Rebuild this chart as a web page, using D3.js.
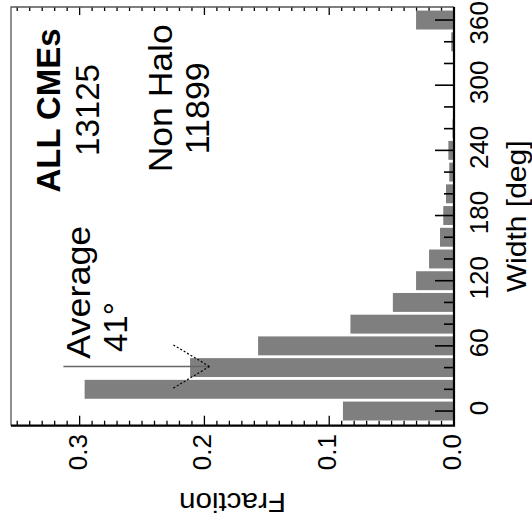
<!DOCTYPE html>
<html>
<head>
<meta charset="utf-8">
<script src="https://cdn.jsdelivr.net/npm/d3@7"></script>
<style>
  body { margin: 0; background: #fff; }
  text { font-family: "Liberation Sans", Arial, Helvetica, sans-serif; fill: #000; }
</style>
</head>
<body>
<svg id="chart" width="532" height="524"></svg>
<script>
// CME angular-width histogram, 20-degree bins centred on each value,
// drawn turned a quarter turn: width runs up the right side, fraction runs leftwards.
const binCenters = [0, 20, 40, 60, 80, 100, 120, 140, 160, 180, 200, 220, 240, 260, 280, 300, 320, 340, 360];
const fractions  = [0.089, 0.296, 0.2115, 0.157, 0.083, 0.049, 0.0304, 0.020, 0.0112, 0.0086,
                    0.0064, 0.0038, 0.0045, 0.0012, 0.0006, 0.0004, 0.0004, 0.0022, 0.0304];
const widthTicks    = [0, 60, 120, 180, 240, 300, 360];
const fractionTicks = [0.0, 0.1, 0.2, 0.3];
const averageWidth  = 41;
const arrowFrom = 0.313, arrowTo = 0.196, headBack = 0.225, headSpread = 20;
const labelAll = "ALL CMEs", countAll = "13125";
const labelNonHalo = "Non Halo", countNonHalo = "11899";

const W = 532, H = 524;
const svg = d3.select("#chart");
const frame = { left: 11, right: 454, top: 7, bottom: 425.7 };

const x = d3.scaleLinear().domain([0, 0.355]).range([frame.right, frame.left]);
const y = d3.scaleLinear().domain([-13.5, 372]).range([frame.bottom, frame.top]);
const binHalf = 10, gap = 2.8;

// fraction ticks on the bottom and top edges (drawn under the bars)
const fracMinor = d3.range(0, 0.3501, 0.01);
const tickG = svg.append("g").attr("stroke", "#000").attr("stroke-width", 1.3);
fracMinor.forEach((v, i) => {
  const major = i % 10 === 0;
  const px = x(v);
  tickG.append("line").attr("x1", px).attr("x2", px)
    .attr("y1", frame.bottom).attr("y2", frame.bottom - (major ? 10 : 5));
  tickG.append("line").attr("x1", px).attr("x2", px)
    .attr("y1", frame.top).attr("y2", frame.top + (major ? 8 : 4));
});

// bars
const data = binCenters.map((c, i) => ({ c, f: fractions[i] }));
svg.append("g").selectAll("rect").data(data).join("rect")
  .attr("x", d => x(d.f))
  .attr("width", d => x(0) - x(d.f) + 1)
  .attr("y", d => y(d.c + binHalf) + gap / 2)
  .attr("height", d => y(d.c - binHalf) - y(d.c + binHalf) - gap)
  .attr("fill", "#7f7f7f");

// width ticks on the right edge
const wG = svg.append("g").attr("stroke", "#000").attr("stroke-width", 1.6);
d3.range(0, 361, 20).forEach(v => {
  const len = v % 60 === 0 ? 19 : 10;
  wG.append("line").attr("x1", frame.right).attr("x2", frame.right - len)
    .attr("y1", y(v)).attr("y2", y(v));
});

// frame
svg.append("path")
  .attr("d", `M${frame.right},${frame.top}H${frame.left}V${frame.bottom}`)
  .attr("fill", "none").attr("stroke", "#555").attr("stroke-width", 1.3);
svg.append("path")
  .attr("d", `M${frame.left},${frame.bottom}H${frame.right}V${frame.top}`)
  .attr("fill", "none").attr("stroke", "#000").attr("stroke-width", 2.2);

// text turned to read bottom-to-top
function vtext(str, px, py, size, anchor, opts) {
  opts = opts || {};
  const t = svg.append("text")
    .attr("transform", `translate(${px},${py}) rotate(-90)`)
    .attr("text-anchor", anchor)
    .attr("font-size", size)
    .attr("font-weight", opts.weight || "normal")
    .text(str);
  if (opts.length) t.attr("textLength", opts.length).attr("lengthAdjust", "spacingAndGlyphs");
  return t;
}

// fraction tick labels
const fmt = d3.format(".1f");
fractionTicks.forEach(v => vtext(fmt(v), x(v) + 7, 434, 26, "end"));

// width tick labels, kept inside the page at the top
widthTicks.forEach(v => {
  const t = vtext(String(v), 488, 0, 26, "middle");
  const half = t.node().getComputedTextLength() / 2;
  const py = Math.max(y(v) - 3, half + 1);
  t.attr("transform", `translate(488,${py}) rotate(-90)`);
});

// axis titles
vtext("Width [deg]", 525.5, (frame.top + frame.bottom) / 2, 28, "middle", { length: 152 });
svg.append("text")
  .attr("transform", `translate(${(frame.left + frame.right) / 2},493.3) rotate(180)`)
  .attr("text-anchor", "middle").attr("font-size", 27)
  .attr("textLength", 107).attr("lengthAdjust", "spacingAndGlyphs")
  .text("Fraction");

// average arrow
const ay = y(averageWidth);
svg.append("line")
  .attr("x1", x(arrowFrom)).attr("x2", x(arrowTo))
  .attr("y1", ay).attr("y2", ay)
  .attr("stroke", "#666").attr("stroke-width", 1.3);
[1, -1].forEach(s => {
  svg.append("line")
    .attr("x1", x(arrowTo)).attr("y1", ay)
    .attr("x2", x(headBack)).attr("y2", y(averageWidth + s * headSpread))
    .attr("stroke", "#000").attr("stroke-width", 1.2)
    .attr("stroke-dasharray", "2,2");
});

// annotations
vtext(labelAll, 60, 110.5, 33, "middle", { weight: "bold", length: 164 });
vtext(countAll, 99.3, 110, 33, "middle", { length: 92 });
vtext(labelNonHalo, 171.7, 98.3, 33, "middle", { length: 148 });
vtext(countNonHalo, 209.3, 108.3, 33, "middle", { length: 92 });
vtext("Average", 90, 358.7, 33, "start", { length: 133 });
vtext(averageWidth + "\u00B0", 126.7, 352, 33, "start");
</script>
</body>
</html>
